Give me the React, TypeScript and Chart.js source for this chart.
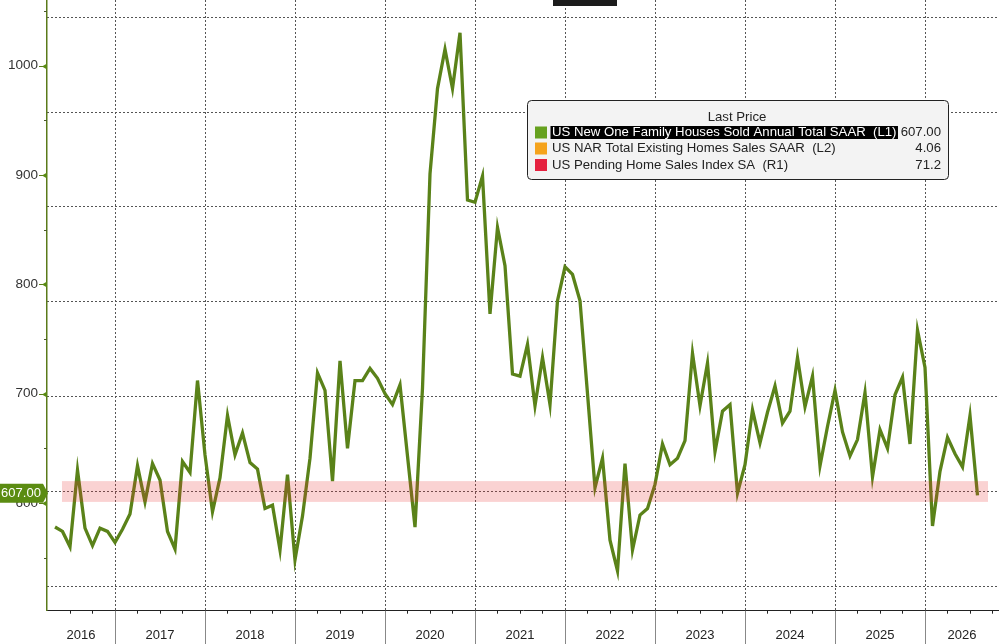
import React, { useEffect, useRef } from "react";
import { Chart, registerables } from "chart.js";

Chart.register(...registerables);

// Monthly values, May 2016 .. Aug 2026 (thousands, SAAR)
const newHomeSales: number[] = [
  578, 574, 560, 630, 577, 561, 577, 574,
  564, 576, 590, 634, 601, 636, 621, 574, 558, 638, 628, 712,
  644, 592, 623, 680, 644, 664, 637, 631, 595, 598, 557, 626,
  548, 588, 641, 719, 703, 620, 730, 650, 712, 712, 723, 714,
  700, 690, 708, 643, 578, 705, 901, 979, 1015, 979, 1030, 877,
  875, 899, 773, 852, 817, 718, 716, 745, 689, 733, 690, 785,
  816, 809, 785, 700, 614, 641, 566, 538, 636, 557, 589, 595,
  617, 654, 635, 641, 657, 737, 689, 728, 647, 684, 690, 609,
  635, 685, 655, 683, 707, 673, 684, 733, 688, 716, 634, 670,
  703, 665, 643, 658, 701, 624, 667, 650, 699, 715, 654, 758,
  724, 579, 629, 660, 645, 633, 680, 607,
];

const yearLabels: string[] = [
  "2016", "2017", "2018", "2019", "2020", "2021",
  "2022", "2023", "2024", "2025", "2026",
];
const firstJanuaryIndex = 8; // index of Jan 2017 in newHomeSales
const leftTicks: number[] = [550, 600, 650, 700, 750, 800, 850, 900, 950, 1000, 1050];
const rightGridTicks: number[] = [0, 1, 2, 3, 4, 5, 6];
const lastPrice = 607.0;
const bandRange: number[] = [601, 620];

const legendTitle = "Last Price";
const legendLabels: string[] = [
  "US New One Family Houses Sold Annual Total SAAR  (L1)",
  "US NAR Total Existing Homes Sales SAAR  (L2)",
  "US Pending Home Sales Index SA  (R1)",
];
const legendValues: string[] = ["607.00", "4.06", "71.2"];
const legendColors: string[] = ["#66a11f", "#f5a31c", "#e5213f"];

const FONT = '"Liberation Sans", Arial, sans-serif';
const LINE_GREEN = "#5a8219";

function zeroPad(axis: any) {
  axis.paddingTop = 0;
  axis.paddingBottom = 0;
  axis.paddingLeft = 0;
  axis.paddingRight = 0;
}

export default function App() {
  const canvasRef = useRef<HTMLCanvasElement | null>(null);

  useEffect(() => {
    const canvas = canvasRef.current;
    if (!canvas) return;

    const xMin = -8 / 7.5;
    const xMax = 944 / 7.5;

    const quarterTicks: number[] = [];
    for (let i = 2; i <= xMax; i += 3) quarterTicks.push(i);
    const yearBoundaries: number[] = [];
    for (let k = 0; k < yearLabels.length - 1; k++) yearBoundaries.push(firstJanuaryIndex + 12 * k);

    const overlay = {
      id: "overlay",
      afterDatasetsDraw(chart: any) {
        const { ctx } = chart;
        const xs = chart.scales.x;
        const ys = chart.scales.y;
        ctx.save();
        ctx.fillStyle = "rgba(230,50,50,0.22)";
        const bx0 = xs.getPixelForValue(0.93);
        const bx1 = xs.getPixelForValue(124.4);
        const by0 = ys.getPixelForValue(bandRange[1]);
        const by1 = ys.getPixelForValue(bandRange[0]);
        ctx.fillRect(bx0, by0, bx1 - bx0, by1 - by0);
        ctx.restore();
      },
      afterDraw(chart: any) {
        const { ctx, chartArea } = chart;
        const xs = chart.scales.x;
        const ys = chart.scales.y;
        const H = chart.height;
        ctx.save();

        const ax = chartArea.left;
        leftTicks.forEach((v) => {
          const py = Math.round(ys.getPixelForValue(v)) + 0.5;
          if (v % 100 === 0) {
            ctx.strokeStyle = "#5a7a1a";
            ctx.lineWidth = 1;
            ctx.beginPath();
            ctx.moveTo(ax - 8, py);
            ctx.lineTo(ax, py);
            ctx.stroke();
            ctx.fillStyle = "#5a8a14";
            ctx.beginPath();
            ctx.moveTo(ax, py - 3);
            ctx.lineTo(ax, py + 3);
            ctx.lineTo(ax - 5, py);
            ctx.closePath();
            ctx.fill();
          } else {
            ctx.strokeStyle = "#4a5a2a";
            ctx.lineWidth = 1;
            ctx.beginPath();
            ctx.moveTo(ax - 3, py);
            ctx.lineTo(ax, py);
            ctx.stroke();
          }
        });

        ctx.strokeStyle = "#888";
        ctx.lineWidth = 1;
        yearBoundaries.forEach((j) => {
          const px = Math.round(xs.getPixelForValue(j)) + 0.5;
          ctx.beginPath();
          ctx.moveTo(px, chartArea.bottom);
          ctx.lineTo(px, H);
          ctx.stroke();
        });

        ctx.fillStyle = "#222";
        ctx.font = `13px ${FONT}`;
        ctx.textAlign = "center";
        ctx.textBaseline = "middle";
        yearLabels.forEach((label, i) => {
          const s = Math.max(xs.min, firstJanuaryIndex + 12 * (i - 1));
          const e = Math.min(xs.max, firstJanuaryIndex + 12 * i);
          const cx = (xs.getPixelForValue(s) + xs.getPixelForValue(e)) / 2;
          ctx.fillText(label, cx, 635);
        });

        const cy = ys.getPixelForValue(lastPrice) - 2;
        ctx.fillStyle = "#5b8c12";
        ctx.beginPath();
        ctx.moveTo(0, cy - 9.5);
        ctx.lineTo(43, cy - 9.5);
        ctx.lineTo(48, cy);
        ctx.lineTo(43, cy + 9.5);
        ctx.lineTo(0, cy + 9.5);
        ctx.closePath();
        ctx.fill();
        ctx.fillStyle = "#ffffff";
        ctx.font = `13px ${FONT}`;
        ctx.textAlign = "center";
        ctx.textBaseline = "middle";
        ctx.fillText(lastPrice.toFixed(2), 21, cy + 0.5);

        ctx.fillStyle = "#1c1c1c";
        ctx.fillRect(553, 0, 64, 6);

        const lx = 527, ly = 100, lw = 421, lh = 79;
        ctx.fillStyle = "#f3f3f3";
        ctx.strokeStyle = "#222";
        ctx.lineWidth = 1;
        ctx.beginPath();
        (ctx as any).roundRect(lx + 0.5, ly + 0.5, lw, lh, 4);
        ctx.fill();
        ctx.stroke();
        ctx.fillStyle = "#222";
        ctx.font = `13.2px ${FONT}`;
        ctx.textAlign = "center";
        ctx.textBaseline = "middle";
        ctx.fillText(legendTitle, 737, 117);
        const rowY = [132.5, 148.5, 165];
        legendLabels.forEach((label, i) => {
          const ry = rowY[i];
          ctx.fillStyle = legendColors[i];
          ctx.fillRect(535, ry - 6, 12, 12);
          ctx.font = `13.2px ${FONT}`;
          ctx.textAlign = "left";
          ctx.textBaseline = "middle";
          if (i === 0) {
            const w = ctx.measureText(label).width;
            ctx.fillStyle = "#000";
            ctx.fillRect(550.5, ry - 6.5, w + 3, 13);
            ctx.fillStyle = "#fff";
          } else {
            ctx.fillStyle = "#222";
          }
          ctx.fillText(label, 552, ry);
          ctx.fillStyle = "#222";
          ctx.textAlign = "right";
          ctx.fillText(legendValues[i], 941, ry);
        });

        ctx.restore();
      },
    };

    const chart = new Chart(canvas, {
      type: "line",
      data: {
        datasets: [
          {
            label: legendLabels[0],
            data: newHomeSales.map((v, i) => ({ x: i, y: v })),
            borderColor: LINE_GREEN,
            borderWidth: 3.3,
            pointRadius: 0,
            tension: 0,
            fill: false,
            xAxisID: "x",
            yAxisID: "y",
          },
        ],
      },
      options: {
        animation: false,
        responsive: false,
        events: [],
        layout: { padding: 0, autoPadding: false },
        plugins: { legend: { display: false }, tooltip: { enabled: false } },
        scales: {
          x: {
            type: "linear",
            position: "bottom",
            min: xMin,
            max: xMax,
            afterBuildTicks: (axis: any) => {
              axis.ticks = quarterTicks.map((v) => ({ value: v }));
            },
            afterFit: (axis: any) => {
              axis.height = 33.3;
              zeroPad(axis);
            },
            ticks: { display: false },
            grid: { drawOnChartArea: false, drawTicks: true, tickLength: 3, color: "#222", lineWidth: 1 },
            border: { display: true, color: "#222", width: 1 },
          },
          xg: {
            type: "linear",
            position: "bottom",
            min: xMin,
            max: xMax,
            afterBuildTicks: (axis: any) => {
              axis.ticks = yearBoundaries.map((v) => ({ value: v }));
            },
            afterFit: (axis: any) => {
              axis.height = 0;
              zeroPad(axis);
            },
            ticks: { display: false },
            grid: { drawOnChartArea: true, drawTicks: false, color: "#555", lineWidth: 1 },
            border: { display: false, dash: [2, 2] },
          },
          y: {
            type: "linear",
            position: "left",
            min: 501.5,
            max: 1060,
            afterBuildTicks: (axis: any) => {
              axis.ticks = leftTicks.map((v) => ({ value: v }));
            },
            afterFit: (axis: any) => {
              axis.width = 47;
              zeroPad(axis);
            },
            ticks: {
              autoSkip: false,
              padding: 9,
              color: "#333",
              font: { family: FONT, size: 13.5 },
              callback: (v: any) => (Number(v) % 100 === 0 ? String(v) : ""),
            },
            grid: { drawOnChartArea: false, drawTicks: false },
            border: { display: true, color: "#5a7a1a", width: 1.5 },
          },
          yg: {
            type: "linear",
            position: "right",
            min: -0.26,
            max: 6.183,
            afterBuildTicks: (axis: any) => {
              axis.ticks = rightGridTicks.map((v) => ({ value: v }));
            },
            afterFit: (axis: any) => {
              axis.width = 0;
              zeroPad(axis);
            },
            ticks: { display: false },
            grid: { drawOnChartArea: true, drawTicks: false, color: "#555", lineWidth: 1 },
            border: { display: false, dash: [2, 2] },
          },
        },
      } as any,
      plugins: [overlay],
    });

    return () => chart.destroy();
  }, []);

  return (
    <div style={{ position: "absolute", left: 0, top: 0, width: 999, height: 644, background: "#fff" }}>
      <canvas ref={canvasRef} width={999} height={644} style={{ display: "block" }} />
    </div>
  );
}
